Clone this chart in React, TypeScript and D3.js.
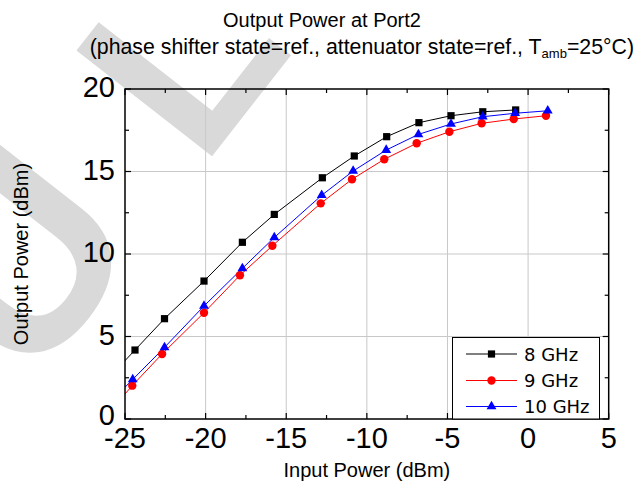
import React from "react";
import * as d3 from "d3";

// ---- data ----
const seriesNames = ["8 GHz", "9 GHz", "10 GHz"];
const seriesColors = ["#000000", "#ff0000", "#0000ff"];
// first entry of each series lies left of the axis (line continues to the frame)
const xBlack = [-26.5, -24.38, -22.55, -20.1, -17.72, -15.74, -12.76, -10.78, -8.77, -6.77, -4.78, -2.81, -0.77];
const yBlack = [1.98, 4.18, 6.08, 8.36, 10.71, 12.4, 14.62, 15.94, 17.11, 17.96, 18.38, 18.62, 18.73];
const xRed = [-26.5, -24.55, -22.7, -20.1, -17.87, -15.86, -12.86, -10.92, -8.92, -6.91, -4.88, -2.88, -0.89, 1.11];
const yRed = [-0.15, 2.02, 3.94, 6.44, 8.71, 10.5, 13.07, 14.53, 15.74, 16.71, 17.41, 17.92, 18.18, 18.38];
const xBlue = [-26.5, -24.52, -22.55, -20.1, -17.72, -15.74, -12.8, -10.85, -8.8, -6.8, -4.78, -2.81, -0.8, 1.22];
const yBlue = [0.45, 2.4, 4.34, 6.85, 9.13, 11.0, 13.56, 15.03, 16.3, 17.25, 17.88, 18.32, 18.53, 18.68];
const xTicks = [-25, -20, -15, -10, -5, 0, 5];
const yTicks = [0, 5, 10, 15, 20];
const xMinor = [-22.5, -17.5, -12.5, -7.5, -2.5, 2.5];
const yMinor = [2.5, 7.5, 12.5, 17.5];
const watermarkLetters = ["U", "L"];

const W = 638, H = 485;
const M = { left: 125, right: 608.7, top: 89, bottom: 419 };
const ARIAL = "'Liberation Sans', Arial, sans-serif";

export default function App() {
  const x = d3.scaleLinear().domain([-25, 5]).range([M.left, M.right]);
  const y = d3.scaleLinear().domain([0, 20]).range([M.bottom, M.top]);
  const series = [
    { xs: xBlack, ys: yBlack, shape: "square" },
    { xs: xRed, ys: yRed, shape: "circle" },
    { xs: xBlue, ys: yBlue, shape: "triangle" },
  ].map((s, i) => ({
    ...s,
    name: seriesNames[i],
    color: seriesColors[i],
    pts: s.xs.map((v, j) => [v, s.ys[j]] as [number, number]),
  }));
  const line = d3.line<[number, number]>().x((d) => x(d[0])).y((d) => y(d[1]));

  const marker = (shape: string, cx: number, cy: number, color: string, key: any) => {
    if (shape === "square")
      return <rect key={key} x={cx - 3.6} y={cy - 3.6} width={7.2} height={7.2} fill={color} />;
    if (shape === "circle") return <circle key={key} cx={cx} cy={cy} r={4.2} fill={color} />;
    const sym = d3.symbol().type(d3.symbolTriangle).size(42)();
    return <path key={key} d={sym as string} transform={`translate(${cx},${cy})`} fill={color} />;
  };

  const legendRows = [354, 380.5, 406.5];

  // watermark: letters along a baseline rotated by -52deg
  const ang = (-52 * Math.PI) / 180;
  const bx = Math.cos(ang), by = Math.sin(ang);
  const wmFont = 250;
  const wmCorner = [213, 155]; // outer corner of the "L"
  const wmOrigin = [wmCorner[0] - 0.073 * wmFont * bx, wmCorner[1] - 0.073 * wmFont * by];
  const wmStep = 280;

  return (
    <svg width={W} height={H} style={{ display: "block", position: "absolute", left: 0, top: 0 }}>
      <defs>
        <clipPath id="plotClip">
          <rect x={M.left} y={M.top} width={M.right - M.left} height={M.bottom - M.top} />
        </clipPath>
      </defs>
      <rect width={W} height={H} fill="#fff" />
      {/* watermark */}
      {watermarkLetters.map((ch, i) => {
        const k = i - 1;
        const ox = wmOrigin[0] + k * wmStep * bx;
        const oy = wmOrigin[1] + k * wmStep * by;
        return (
          <text
            key={"wm" + i}
            transform={`translate(${ox},${oy}) rotate(-52)`}
            fontFamily={ARIAL}
            fontWeight="bold"
            fontSize={i === 0 ? 265 : wmFont}
            fill="#d9d9d9"
          >
            {ch}
          </text>
        );
      })}

      {/* grid */}
      {xTicks.slice(1, -1).map((t) => (
        <line key={"gx" + t} x1={x(t)} x2={x(t)} y1={M.top} y2={M.bottom} stroke="#c8c8c8" strokeWidth={1} />
      ))}
      {yTicks.slice(1, -1).map((t) => (
        <line key={"gy" + t} x1={M.left} x2={M.right} y1={y(t)} y2={y(t)} stroke="#c8c8c8" strokeWidth={1} />
      ))}

      {/* series */}
      <g clipPath="url(#plotClip)">
        {series.map((s) => (
          <path key={s.name} d={line(s.pts) || ""} fill="none" stroke={s.color} strokeWidth={1} />
        ))}
        {series.map((s) => s.pts.map((p, j) => marker(s.shape, x(p[0]), y(p[1]), s.color, s.name + j)))}
      </g>

      {/* frame */}
      <rect x={M.left} y={M.top} width={M.right - M.left} height={M.bottom - M.top} fill="none" stroke="#000" strokeWidth={1.5} />
      {/* ticks */}
      {xTicks.map((t) => (
        <g key={"tx" + t}>
          <line x1={x(t)} x2={x(t)} y1={M.bottom} y2={M.bottom - 6} stroke="#000" strokeWidth={1.2} />
          <line x1={x(t)} x2={x(t)} y1={M.top} y2={M.top + 6} stroke="#000" strokeWidth={1.2} />
        </g>
      ))}
      {xMinor.map((t) => (
        <g key={"mx" + t}>
          <line x1={x(t)} x2={x(t)} y1={M.bottom} y2={M.bottom - 4} stroke="#000" strokeWidth={1.2} />
          <line x1={x(t)} x2={x(t)} y1={M.top} y2={M.top + 4} stroke="#000" strokeWidth={1.2} />
        </g>
      ))}
      {yTicks.map((t) => (
        <g key={"ty" + t}>
          <line x1={M.left} x2={M.left + 6} y1={y(t)} y2={y(t)} stroke="#000" strokeWidth={1.2} />
          <line x1={M.right} x2={M.right - 6} y1={y(t)} y2={y(t)} stroke="#000" strokeWidth={1.2} />
        </g>
      ))}
      {yMinor.map((t) => (
        <g key={"my" + t}>
          <line x1={M.left} x2={M.left + 4} y1={y(t)} y2={y(t)} stroke="#000" strokeWidth={1.2} />
          <line x1={M.right} x2={M.right - 4} y1={y(t)} y2={y(t)} stroke="#000" strokeWidth={1.2} />
        </g>
      ))}

      {/* tick labels */}
      {xTicks.map((t) => (
        <text key={"lx" + t} x={x(t)} y={M.bottom + 29} textAnchor="middle" fontFamily={ARIAL} fontSize={29}>
          {t}
        </text>
      ))}
      {yTicks.map((t) => (
        <text key={"ly" + t} x={M.left - 10} y={y(t) + (t === 0 ? 6 : 8)} textAnchor="end" fontFamily={ARIAL} fontSize={29}>
          {t}
        </text>
      ))}

      {/* axis titles */}
      <text x={(M.left + M.right) / 2} y={477} textAnchor="middle" fontFamily={ARIAL} fontSize={20}>
        Input Power (dBm)
      </text>
      <text transform={`translate(28,${(M.top + M.bottom) / 2}) rotate(-90)`} textAnchor="middle" fontFamily={ARIAL} fontSize={20}>
        Output Power (dBm)
      </text>

      {/* titles */}
      <text x={322} y={27} textAnchor="middle" fontFamily={ARIAL} fontSize={20}>
        Output Power at Port2
      </text>
      <text x={634} y={54} textAnchor="end" fontFamily={ARIAL} fontSize={21.3}>
        (phase shifter state=ref., attenuator state=ref., T
        <tspan fontSize={13} dy={4}>amb</tspan>
        <tspan dy={-4}>=25°C)</tspan>
      </text>

      {/* legend */}
      <rect x={452.5} y={337.5} width={147} height={81.5} fill="#fff" stroke="#000" strokeWidth={1} />
      {series.map((s, i) => (
        <g key={"lg" + i}>
          <line x1={466} x2={517} y1={legendRows[i]} y2={legendRows[i]} stroke={s.color} strokeWidth={1} />
          {marker(s.shape, 491.5, legendRows[i], s.color, "lm" + i)}
          <text x={524} y={legendRows[i] + 6.5} fontFamily="'DejaVu Sans', Verdana, sans-serif" fontSize={18}>
            {s.name}
          </text>
        </g>
      ))}
    </svg>
  );
}
